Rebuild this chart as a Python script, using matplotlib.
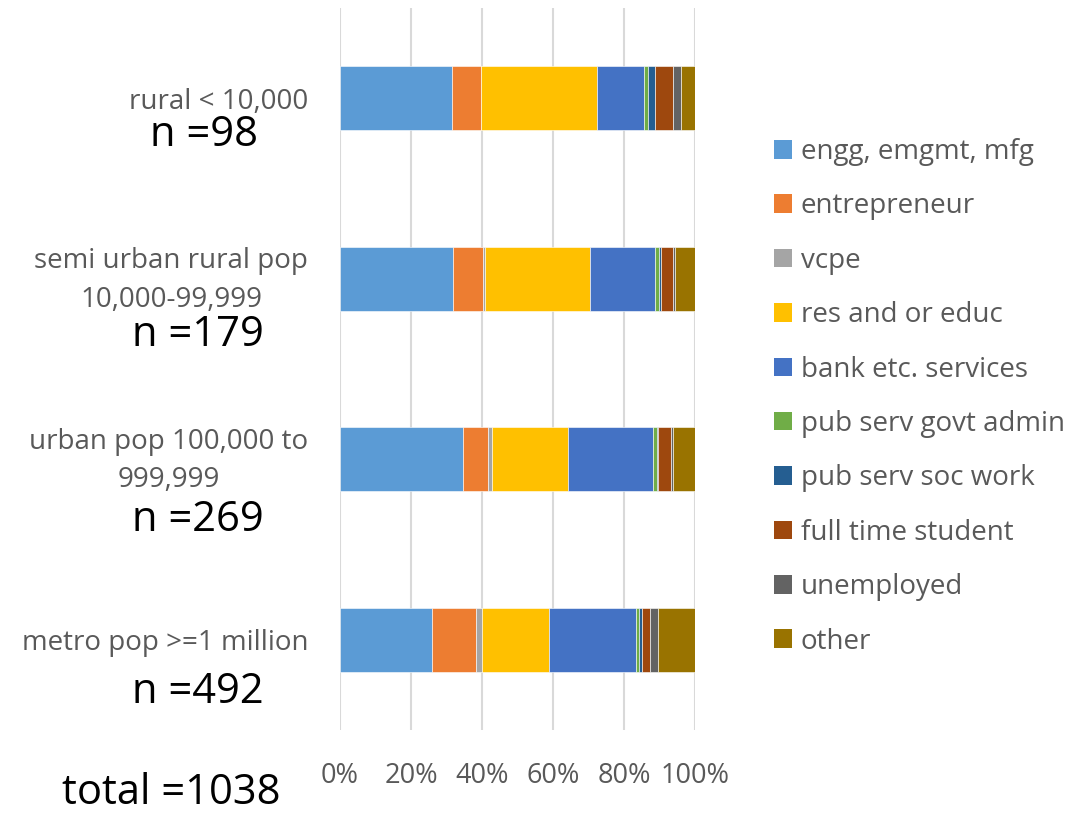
import matplotlib
matplotlib.use("Agg")
import matplotlib.pyplot as plt
import matplotlib.transforms as mtransforms
import numpy as np
from matplotlib.patches import Patch

plt.rcParams['font.family'] = ['Open Sans', 'DejaVu Sans']

categories = ["rural < 10,000", "semi urban rural pop\n10,000-99,999",
              "urban pop 100,000 to\n999,999", "metro pop >=1 million"]
n_counts = [98, 179, 269, 492]
total_n = 1038

series_names = ["engg, emgmt, mfg", "entrepreneur", "vcpe", "res and or educ",
                "bank etc. services", "pub serv govt admin", "pub serv soc work",
                "full time student", "unemployed", "other"]

# counts per category (rural, semi urban, urban, metro)
engg         = [31, 57, 93, 127]
entrepreneur = [8, 15, 19, 62]
vcpe         = [0, 1, 3, 8]
res_educ     = [32, 53, 58, 93]
bank         = [13, 33, 64, 120]
pub_govt     = [1, 2, 3, 5]
pub_soc      = [2, 1, 1, 4]
student      = [5, 6, 10, 11]
unemployed   = [2, 1, 1, 11]
other        = [4, 10, 17, 51]

series = [engg, entrepreneur, vcpe, res_educ, bank, pub_govt, pub_soc,
          student, unemployed, other]
colors = ["#5B9BD5", "#ED7D31", "#A5A5A5", "#FFC000", "#4472C4", "#70AD47",
          "#255E91", "#9E480E", "#636363", "#997300"]

W, H = 1092, 814
fig = plt.figure(figsize=(W / 100, H / 100), dpi=100)
ax = fig.add_axes([340 / W, 1 - 730 / H, 355 / W, 722 / H])

data = np.array(series, dtype=float)
totals = data.sum(axis=0)
pct = data / totals * 100
y = np.arange(len(categories))
left = np.zeros(len(categories))
for vals, col, name in zip(pct, colors, series_names):
    ax.barh(y, vals, left=left, height=0.354, color=col, label=name,
            edgecolor="white", linewidth=0.4, zorder=3)
    left += vals

ax.set_xlim(0, 100)
ax.set_ylim(len(categories) - 0.5, -0.5)
ax.set_xticks(np.arange(0, 101, 20))
ax.set_xticklabels([f"{v}%" for v in range(0, 101, 20)], fontsize=19.5, color="#595959")
ax.set_yticks(y)
ax.set_yticklabels([])
ax.tick_params(axis="both", length=0)
ax.tick_params(axis="x", pad=23)
ax.grid(axis="x", color="#D9D9D9", linewidth=1.5, zorder=0)
for s in ax.spines.values():
    s.set_visible(False)

# category labels
ytrans = ax.get_yaxis_transform()
for yi, cat in zip(y, categories):
    tr = ytrans
    if "\n" in cat:
        tr = ytrans + mtransforms.ScaledTranslation(0, 7 / 100, fig.dpi_scale_trans)
    ax.text(-32 / 355, yi, cat, transform=tr, fontsize=20, color="#595959",
            ha="right", va="center_baseline", multialignment="center",
            linespacing=1.5)

# n labels
n_pos = [(204, 135), (198, 335), (198, 520), (198, 692)]
for (px, py), n in zip(n_pos, n_counts):
    fig.text(px / W, 1 - py / H, f"n ={n}", fontsize=30, color="black",
             ha="center", va="center")
fig.text(171 / W, 1 - 793 / H, f"total ={total_n}", fontsize=30, color="black",
         ha="center", va="center")

handles = [Patch(facecolor=c, label=nm) for c, nm in zip(colors, series_names)]
fig.legend(handles=handles, loc="upper left", bbox_to_anchor=(749 / W, 1 - 113 / H),
           frameon=False, fontsize=20, labelcolor="#595959", handlelength=0.65,
           handleheight=0.65, handletextpad=0.32, labelspacing=0.95)

fig.savefig("out.png", dpi=100)
